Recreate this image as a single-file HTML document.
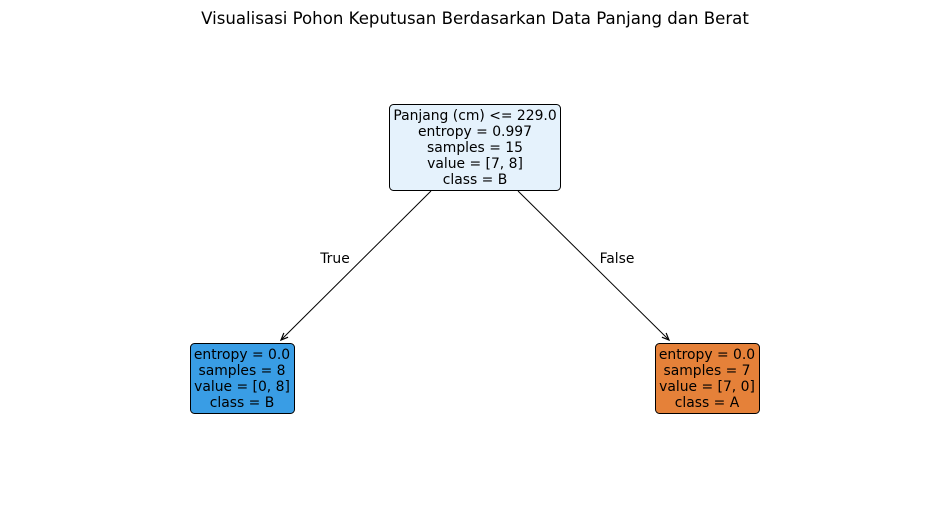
<!DOCTYPE html>
<html><head><style>body{margin:0;background:#fff}</style></head><body>
<svg width="950" height="504" xmlns="http://www.w3.org/2000/svg" font-family="DejaVu Sans, sans-serif">
<rect width="950" height="504" fill="#fff"/>
<text x="475" y="24" font-size="16.6" text-anchor="middle" fill="#000">Visualisasi Pohon Keputusan Berdasarkan Data Panjang dan Berat</text>
<defs><marker id="a" markerWidth="10" markerHeight="10" refX="8" refY="4" orient="auto" markerUnits="userSpaceOnUse"><path d="M1,1 L8,4 L1,7" fill="none" stroke="#000" stroke-width="1.2"/></marker></defs>
<line x1="431" y1="191" x2="281" y2="340" stroke="#000" stroke-width="1" marker-end="url(#a)"/>
<line x1="518" y1="191" x2="669" y2="340" stroke="#000" stroke-width="1" marker-end="url(#a)"/>
<text x="335" y="263" font-size="13.9" text-anchor="middle">True</text>
<text x="617" y="263" font-size="13.9" text-anchor="middle">False</text>
<rect x="389.5" y="104.5" width="171" height="86" rx="4" fill="#e5f2fc" stroke="#000"/>
<g font-size="13.9" text-anchor="middle">
<text x="475" y="120">Panjang (cm) &lt;= 229.0</text>
<text x="475" y="136">entropy = 0.997</text>
<text x="475" y="152">samples = 15</text>
<text x="475" y="168">value = [7, 8]</text>
<text x="475" y="184">class = B</text>
</g>
<rect x="190.5" y="343.5" width="104" height="70" rx="4" fill="#399de5" stroke="#000"/>
<g font-size="13.9" text-anchor="middle">
<text x="242" y="359">entropy = 0.0</text>
<text x="242" y="375">samples = 8</text>
<text x="242" y="391">value = [0, 8]</text>
<text x="242" y="407">class = B</text>
</g>
<rect x="655.5" y="343.5" width="104" height="70" rx="4" fill="#e58139" stroke="#000"/>
<g font-size="13.9" text-anchor="middle">
<text x="707" y="359">entropy = 0.0</text>
<text x="707" y="375">samples = 7</text>
<text x="707" y="391">value = [7, 0]</text>
<text x="707" y="407">class = A</text>
</g>
</svg>
</body></html>
